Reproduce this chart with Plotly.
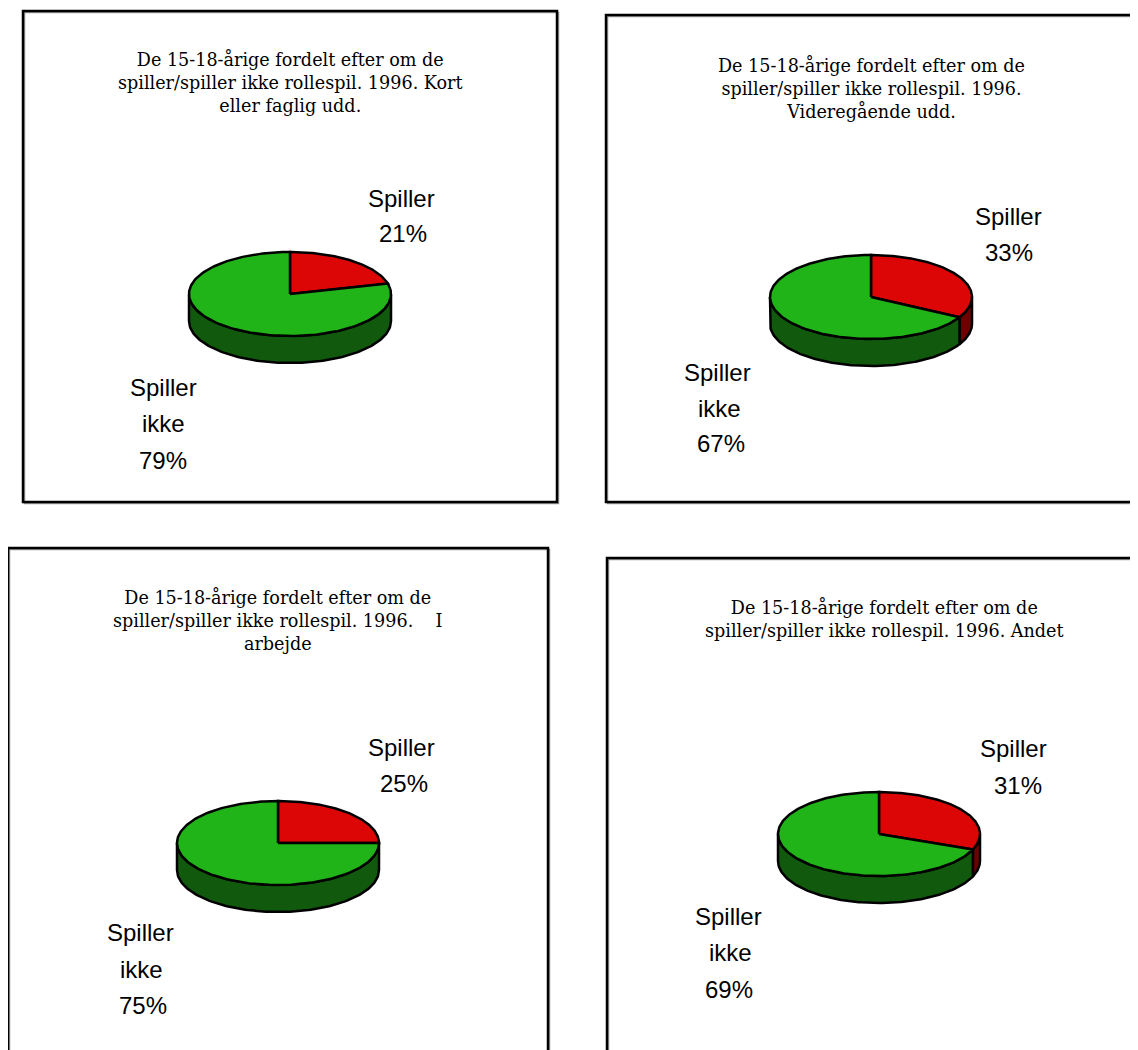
import numpy as np
import plotly.graph_objects as go

# ---------------- data ----------------
titles = [
    "De 15-18-årige fordelt efter om de<br>spiller/spiller ikke rollespil. 1996. Kort<br>eller faglig udd.",
    "De 15-18-årige fordelt efter om de<br>spiller/spiller ikke rollespil. 1996.<br>Videregående udd.",
    "De 15-18-årige fordelt efter om de<br>spiller/spiller ikke rollespil. 1996.    I<br>arbejde",
    "De 15-18-årige fordelt efter om de<br>spiller/spiller ikke rollespil. 1996. Andet",
]
categories = ["Spiller", "Spiller ikke"]
spiller_pct = [21, 33, 25, 31]
ikke_pct = [79, 67, 75, 69]

# ---------------- layout (pixel space) ----------------
W, H = 1138, 1050
OFF = 8  # page body margin
boxes = [(23, 11, 557, 502), (606, 15, 1136, 502), (8, 548, 548, 1062), (607, 558, 1150, 1062)]
centers = [(290, 294), (871, 297), (278, 843), (879, 834)]
title_pos = [(290, 82), (871, 88), (278, 620), (884, 619)]
sp_lab = [((401, 198), (403, 233)), ((1008, 216), (1009, 252)),
          ((401, 747), (404, 783)), ((1013, 748), (1018, 785))]
ik_lab = [((163, 387), (163, 423), (163, 460)), ((717, 372), (719, 408), (721, 443)),
          ((140, 932), (141, 969), (143, 1005)), ((728, 916), (730, 952), (729, 989))]
RX, RY, DEPTH = 101, 42, 27

RED, GREEN = "#dd0606", "#20b418"
RED_D, GREEN_D = "#6e0000", "#11590d"

fig = go.Figure()


def top_xy(cx, cy, th):
    return cx + RX * np.sin(th), cy - RY * np.cos(th)


def add_poly(x, y, color):
    fig.add_trace(go.Scatter(x=x, y=y, mode="lines", fill="toself", fillcolor=color,
                             line=dict(color="black", width=2.5), hoverinfo="skip",
                             showlegend=False))


for i in range(4):
    cx, cy = centers[i]
    total = spiller_pct[i] + ikke_pct[i]
    a_split = 2 * np.pi * spiller_pct[i] / total
    slices = [(0.0, a_split, RED, RED_D), (a_split, 2 * np.pi, GREEN, GREEN_D)]
    # side walls (visible front half: pi/2 .. 3pi/2)
    for a0, a1, c, cd in slices:
        s0, s1 = max(a0, np.pi / 2), min(a1, 3 * np.pi / 2)
        if s1 - s0 > 1e-6:
            th = np.linspace(s0, s1, 120)
            xt, yt = top_xy(cx, cy, th)
            xs = np.concatenate([xt, xt[::-1], xt[:1]])
            ys = np.concatenate([yt, yt[::-1] + DEPTH, yt[:1]])
            add_poly(xs, ys, cd)
    # top faces
    for a0, a1, c, cd in slices:
        th = np.linspace(a0, a1, 200)
        xt, yt = top_xy(cx, cy, th)
        xs = np.concatenate([[cx], xt, [cx]])
        ys = np.concatenate([[cy], yt, [cy]])
        add_poly(xs, ys, c)

shapes = []
for (x0, y0, x1, y1) in boxes:
    shapes.append(dict(type="rect", xref="x", yref="y", x0=x0 + 1.5, y0=y0 + 1.5, x1=x1 + 1.5, y1=y1 + 1.5,
                       line=dict(color="#9a9a9a", width=1.5), layer="below"))
    shapes.append(dict(type="rect", xref="x", yref="y", x0=x0, y0=y0, x1=x1, y1=y1,
                       line=dict(color="black", width=2.5), layer="below"))

ann = []
TF = dict(family="DejaVu Serif", size=17.6, color="black")
LF = dict(family="Liberation Sans, Arial", size=24, color="black")
for i in range(4):
    tx, ty = title_pos[i]
    ann.append(dict(x=tx, y=ty, xref="x", yref="y", text=titles[i], showarrow=False,
                    align="center", xanchor="center", yanchor="middle", font=TF))
    (lx1, ly1), (lx2, ly2) = sp_lab[i]
    ann.append(dict(x=lx1, y=ly1, xref="x", yref="y", text=categories[0], showarrow=False, font=LF))
    ann.append(dict(x=lx2, y=ly2, xref="x", yref="y", text=f"{spiller_pct[i]}%", showarrow=False, font=LF))
    words = categories[1].split(" ")
    texts = [words[0], words[1], f"{ikke_pct[i]}%"]
    for (px, py), t in zip(ik_lab[i], texts):
        ann.append(dict(x=px, y=py, xref="x", yref="y", text=t, showarrow=False, font=LF))

fig.update_layout(
    width=W - OFF, height=H - OFF, margin=dict(l=0, r=0, t=0, b=0),
    paper_bgcolor="white", plot_bgcolor="white",
    xaxis=dict(range=[OFF, W], visible=False, fixedrange=True),
    yaxis=dict(range=[H, OFF], visible=False, fixedrange=True),
    shapes=shapes, annotations=ann, showlegend=False,
)
fig.write_html("out.html")
